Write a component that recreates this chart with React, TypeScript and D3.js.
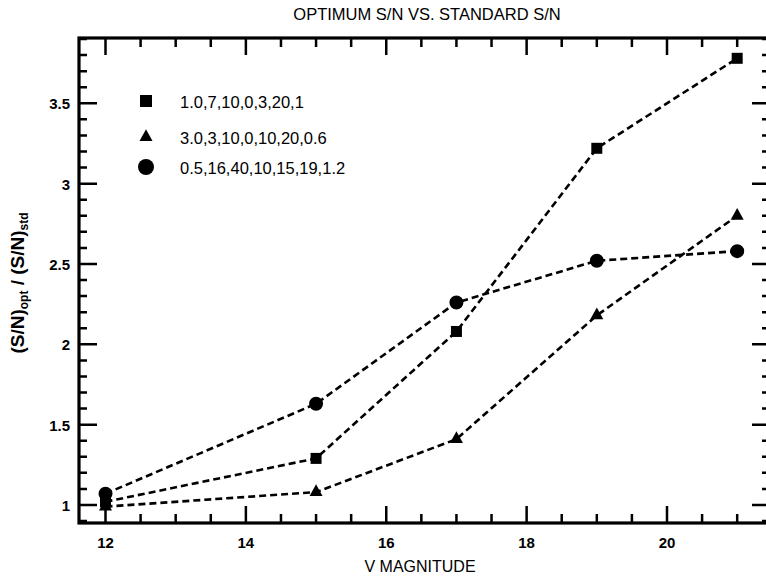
import React from "react";
import * as d3 from "d3";

// V magnitude values along the x axis
const magnitudes = [12, 15, 17, 19, 21];

// (S/N)opt / (S/N)std for each parameter set
const squareSeries = [1.02, 1.29, 2.08, 3.22, 3.78];
const triangleSeries = [0.99, 1.08, 1.41, 2.18, 2.8];
const circleSeries = [1.07, 1.63, 2.26, 2.52, 2.58];

const legendLabels = [
  "1.0,7,10,0,3,20,1",
  "3.0,3,10,0,10,20,0.6",
  "0.5,16,40,10,15,19,1.2",
];

const xMajorTicks = [12, 14, 16, 18, 20];
const yMajorTicks = [1, 1.5, 2, 2.5, 3, 3.5];
const yTickLabels = ["1", "1.5", "2", "2.5", "3", "3.5"];

const plotLeft = 79;
const plotRight = 770;
const plotTop = 38;
const plotBottom = 523;

const font = "Liberation Sans, Arial, sans-serif";

type Shape = "square" | "triangle" | "circle";

function markerPath(shape: Shape, cx: number, cy: number, s: number) {
  const p = d3.path();
  if (shape === "square") {
    p.rect(cx - s / 2, cy - s / 2, s, s);
  } else if (shape === "circle") {
    p.moveTo(cx + s / 2, cy);
    p.arc(cx, cy, s / 2, 0, Math.PI * 2);
  } else {
    const h = s * 0.9;
    p.moveTo(cx, cy - (h * 2) / 3);
    p.lineTo(cx + s / 2, cy + h / 3);
    p.lineTo(cx - s / 2, cy + h / 3);
    p.closePath();
  }
  return p.toString();
}

export default function App() {
  const x = d3.scaleLinear().domain([12, 20]).range([105.5, 667]);
  const y = d3.scaleLinear().domain([1, 3.5]).range([505, 103.3]);

  const xMinor = d3
    .range(23, 44, 1)
    .map((v) => v / 2)
    .filter((v) => !xMajorTicks.includes(v))
    .filter((v) => x(v) > plotLeft + 1 && x(v) < plotRight - 1);
  const yMinor = d3
    .range(9, 40, 1)
    .map((v) => v / 10)
    .filter((v) => !yMajorTicks.some((m) => Math.abs(m - v) < 1e-6))
    .filter((v) => y(v) > plotTop + 1 && y(v) < plotBottom - 1);

  // tick marks point inward on all four sides
  const tickPath = d3.path();
  const vTick = (px: number, len: number) => {
    tickPath.moveTo(px, plotBottom);
    tickPath.lineTo(px, plotBottom - len);
    tickPath.moveTo(px, plotTop);
    tickPath.lineTo(px, plotTop + len);
  };
  const hTick = (py: number, len: number) => {
    tickPath.moveTo(plotLeft, py);
    tickPath.lineTo(plotLeft + len, py);
    tickPath.moveTo(plotRight, py);
    tickPath.lineTo(plotRight - len, py);
  };
  xMajorTicks.forEach((v) => vTick(x(v), 17));
  xMinor.forEach((v) => vTick(x(v), 9));
  yMajorTicks.forEach((v) => hTick(y(v), 18));
  yMinor.forEach((v) => hTick(y(v), 8));

  const lineGen = d3
    .line<number>()
    .x((_, i) => x(magnitudes[i]))
    .y((d) => y(d));

  const series: { shape: Shape; values: number[]; size: number }[] = [
    { shape: "square", values: squareSeries, size: 11 },
    { shape: "triangle", values: triangleSeries, size: 13 },
    { shape: "circle", values: circleSeries, size: 14 },
  ];

  const legendY = [101, 137, 167];
  const legendSizes = [12, 13, 16];

  return (
    <svg width={766} height={577} style={{ position: "absolute", left: 0, top: 0 }}>
      <rect width={766} height={577} fill="#fff" />

      <text x={427} y={20} textAnchor="middle" fontFamily={font} fontSize={16.5}>
        OPTIMUM S/N VS. STANDARD S/N
      </text>

      {xMajorTicks.map((v) => (
        <text
          key={"xl" + v}
          x={x(v)}
          y={548}
          textAnchor="middle"
          fontFamily={font}
          fontSize={15}
          fontWeight="bold"
        >
          {v}
        </text>
      ))}
      {yMajorTicks.map((v, i) => (
        <text
          key={"yl" + v}
          x={70}
          y={y(v) + 6}
          textAnchor="end"
          fontFamily={font}
          fontSize={15}
          fontWeight="bold"
        >
          {yTickLabels[i]}
        </text>
      ))}

      <text x={420} y={572} textAnchor="middle" fontFamily={font} fontSize={16}>
        V MAGNITUDE
      </text>
      <text
        transform="translate(24,283) rotate(-90)"
        textAnchor="middle"
        fontFamily={font}
        fontSize={19}
        fontWeight="bold"
      >
        (S/N)
        <tspan fontSize={12} dy={4}>
          opt
        </tspan>
        <tspan dy={-4}>{" / (S/N)"}</tspan>
        <tspan fontSize={12} dy={4}>
          std
        </tspan>
      </text>

      {series.map((s) => (
        <path
          key={"ln" + s.shape}
          d={lineGen(s.values) || ""}
          fill="none"
          stroke="#000"
          strokeWidth={2.6}
          strokeDasharray="7,4"
        />
      ))}
      {series.map((s) =>
        s.values.map((v, i) => (
          <path
            key={s.shape + i}
            d={markerPath(s.shape, x(magnitudes[i]), y(v), s.size)}
            fill="#000"
          />
        ))
      )}

      {series.map((s, i) => (
        <path key={"lm" + s.shape} d={markerPath(s.shape, 146, legendY[i], legendSizes[i])} fill="#000" />
      ))}
      {series.map((s, i) => (
        <text key={"lt" + s.shape} x={180} y={legendY[i] + 7} fontFamily={font} fontSize={16.5}>
          {legendLabels[i]}
        </text>
      ))}

      <path d={tickPath.toString()} stroke="#000" strokeWidth={2.5} fill="none" />
      <rect
        x={plotLeft}
        y={plotTop}
        width={plotRight - plotLeft}
        height={plotBottom - plotTop}
        fill="none"
        stroke="#000"
        strokeWidth={3.2}
      />
    </svg>
  );
}
